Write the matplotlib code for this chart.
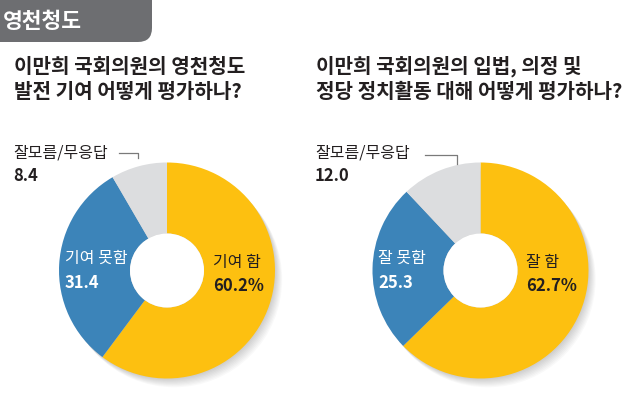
import matplotlib.pyplot as plt
from matplotlib.patches import FancyBboxPatch, Circle

plt.rcParams['font.family'] = ['Noto Sans CJK KR', 'DejaVu Sans']

# data
header = "영천청도"
titles = ["이만희 국회의원의 영천청도\n발전 기여 어떻게 평가하나?",
          "이만희 국회의원의 입법, 의정 및\n정당 정치활동 대해 어떻게 평가하나?"]
left_labels = ["기여 함", "기여 못함", "잘모름/무응답"]
left_values = [60.2, 31.4, 8.4]
right_labels = ["잘 함", "잘 못함", "잘모름/무응답"]
right_values = [62.7, 25.3, 12.0]

colors = ["#FDC010", "#3C84B9", "#DCDDDF"]

W, H = 640, 399
fig = plt.figure(figsize=(6.4, 3.99), dpi=100)
ax = fig.add_axes([0, 0, 1, 1])


def Y(y):
    return H - y


# header tab
tab = FancyBboxPatch((-20, Y(42)), 172, 60, boxstyle="round,pad=0,rounding_size=14",
                     fc="#6D6E71", ec="none")
ax.add_patch(tab)
ax.text(3, Y(21), header, color="white", fontsize=15.5, fontweight="bold",
        va="center", ha="left")

R = 108
inner = 37


def donut(cx, cy, title, labels, values, title_x, leader):
    ax.text(title_x, Y(79), title, fontsize=14.5, fontweight="bold", va="center",
            ha="left", color="#231F20", linespacing=1.25)
    # soft shadow
    for i in range(1, 9):
        ax.add_patch(Circle((cx + i * 0.9, Y(cy) - i * 1.1), R, fc="#000000",
                            alpha=0.025, ec="none", zorder=1))
    wedges, _ = ax.pie(values, colors=colors, startangle=90, counterclock=False,
                       radius=R, center=(cx, Y(cy)),
                       wedgeprops=dict(width=R - inner, edgecolor="none"))
    for w in wedges:
        w.set_zorder(2)
    ax.add_patch(Circle((cx, Y(cy)), inner, fc="white", ec="none", zorder=2))
    # labels
    ax.text(cx + 46, Y(262), labels[0], fontsize=11.5, va="center", color="#231F20", zorder=3)
    ax.text(cx + 46, Y(286), f"{values[0]}%", fontsize=12, fontweight="bold",
            va="center", color="#231F20", zorder=3)
    ax.text(cx - 102, Y(258), labels[1], fontsize=11.5, va="center", color="white", zorder=3)
    ax.text(cx - 102, Y(283), f"{values[1]}", fontsize=12, fontweight="bold",
            va="center", color="white", zorder=3)
    ax.text(title_x - 1, Y(153), labels[2], fontsize=11.5, va="center", color="#231F20", zorder=3)
    ax.text(title_x - 1, Y(176), f"{values[2]}", fontsize=12, fontweight="bold",
            va="center", color="#231F20", zorder=3)
    x0, x1, y0, y1 = leader
    ax.plot([x0, x1, x1], [Y(y0), Y(y0), Y(y1)], color="#7A7A7A", lw=0.9, zorder=3)


donut(167, 270.5, titles[0], left_labels, left_values, 14, (119, 138, 153, 158))
donut(480.5, 270.5, titles[1], right_labels, right_values, 316, (425, 457, 155, 164))

ax.set_xlim(0, W)
ax.set_ylim(0, H)
ax.set_aspect("auto")
ax.axis("off")

fig.savefig("out.png", dpi=100, facecolor="white")
